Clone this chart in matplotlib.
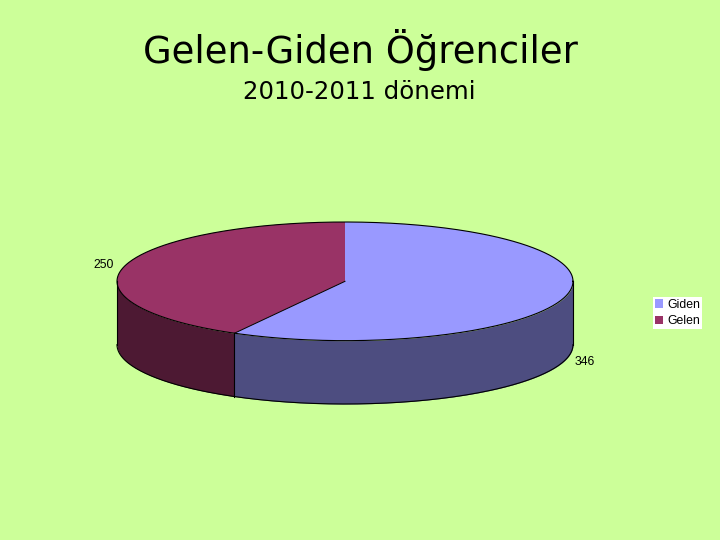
import numpy as np
import matplotlib
matplotlib.use('Agg')
import matplotlib.pyplot as plt
from matplotlib.patches import Patch

# Data
categories = ['Giden', 'Gelen']
values = [346, 250]

# Colours
BG = '#CCFF99'
top_colors = ['#9999FF', '#993366']
side_colors = ['#4D4D80', '#4D1933']

W, H = 720, 540
DEPTH = 63 / 59  # wall height in units of the vertical radius

fig = plt.figure(figsize=(W / 100, H / 100), dpi=100, facecolor=BG)

# axes box chosen so the unit circle comes out as the flattened ellipse
left, right, top, bottom = 117, 573, 222, 404
ax = fig.add_axes([left / W, 1 - bottom / H, (right - left) / W, (bottom - top) / H])
wedges, _ = ax.pie(values, colors=top_colors, startangle=90, counterclock=False,
                   radius=1, wedgeprops={'linewidth': 0})
ax.set_aspect('auto')  # pie forces equal, we want it squashed
ax.set_xlim(-1, 1)
ax.set_ylim(-1 - DEPTH, 1)
for w in wedges:
    w.set_zorder(3)
    w.set_clip_on(False)

# angles of the slices, clockwise from 12 o'clock
angle_split = 90 - 360 * values[0] / sum(values)

# outer walls, only the front half of the cylinder shows
side_ranges = [(0, angle_split), (angle_split, -180)]
for (a0, a1), col in zip(side_ranges, side_colors):
    t = np.radians(np.linspace(a0, a1, 120))
    ax.fill_between(np.cos(t), np.sin(t), np.sin(t) - DEPTH, color=col, lw=0, zorder=2)

# outlines
t = np.radians(np.linspace(0, 360, 400))
ax.plot(np.cos(t), np.sin(t), color='black', lw=0.8, zorder=4, clip_on=False)
t = np.radians(np.linspace(-180, 0, 200))
ax.plot(np.cos(t), np.sin(t) - DEPTH, color='black', lw=0.8, zorder=4, clip_on=False)
sx, sy = np.cos(np.radians(angle_split)), np.sin(np.radians(angle_split))
ax.plot([0, sx], [0, sy], color='black', lw=0.7, zorder=4)
for x, y in [(-1, 0), (1, 0), (sx, sy)]:
    ax.plot([x, x], [y, y - DEPTH], color='black', lw=0.8, zorder=4, clip_on=False)

# titles
fig.text(360 / W, 1 - 50 / H, 'Gelen-Giden Öğrenciler', ha='center', va='center',
         fontsize=26.6, family='DejaVu Sans', color='black')
fig.text(359 / W, 1 - 92 / H, '2010-2011 dönemi', ha='center', va='center',
         fontsize=17.6, family='DejaVu Sans', color='black')

# value labels
fig.text(104 / W, 1 - 265 / H, str(values[1]), ha='center', va='center',
         fontsize=8.8, family='Liberation Sans')
fig.text(585 / W, 1 - 362 / H, str(values[0]), ha='center', va='center',
         fontsize=8.8, family='Liberation Sans')

# legend
handles = [Patch(facecolor=c, edgecolor='none') for c in top_colors]
fig.legend(handles, categories, loc='center', bbox_to_anchor=(677.5 / W, 1 - 313 / H),
           frameon=True, facecolor='white', edgecolor='none', framealpha=1, fancybox=False,
           prop={'family': 'Liberation Sans', 'size': 8.8}, handlelength=0.7, handleheight=0.7,
           handletextpad=0.35, labelspacing=0.4, borderpad=0.15, borderaxespad=0)

fig.savefig('out.png', dpi=100, facecolor=BG)
